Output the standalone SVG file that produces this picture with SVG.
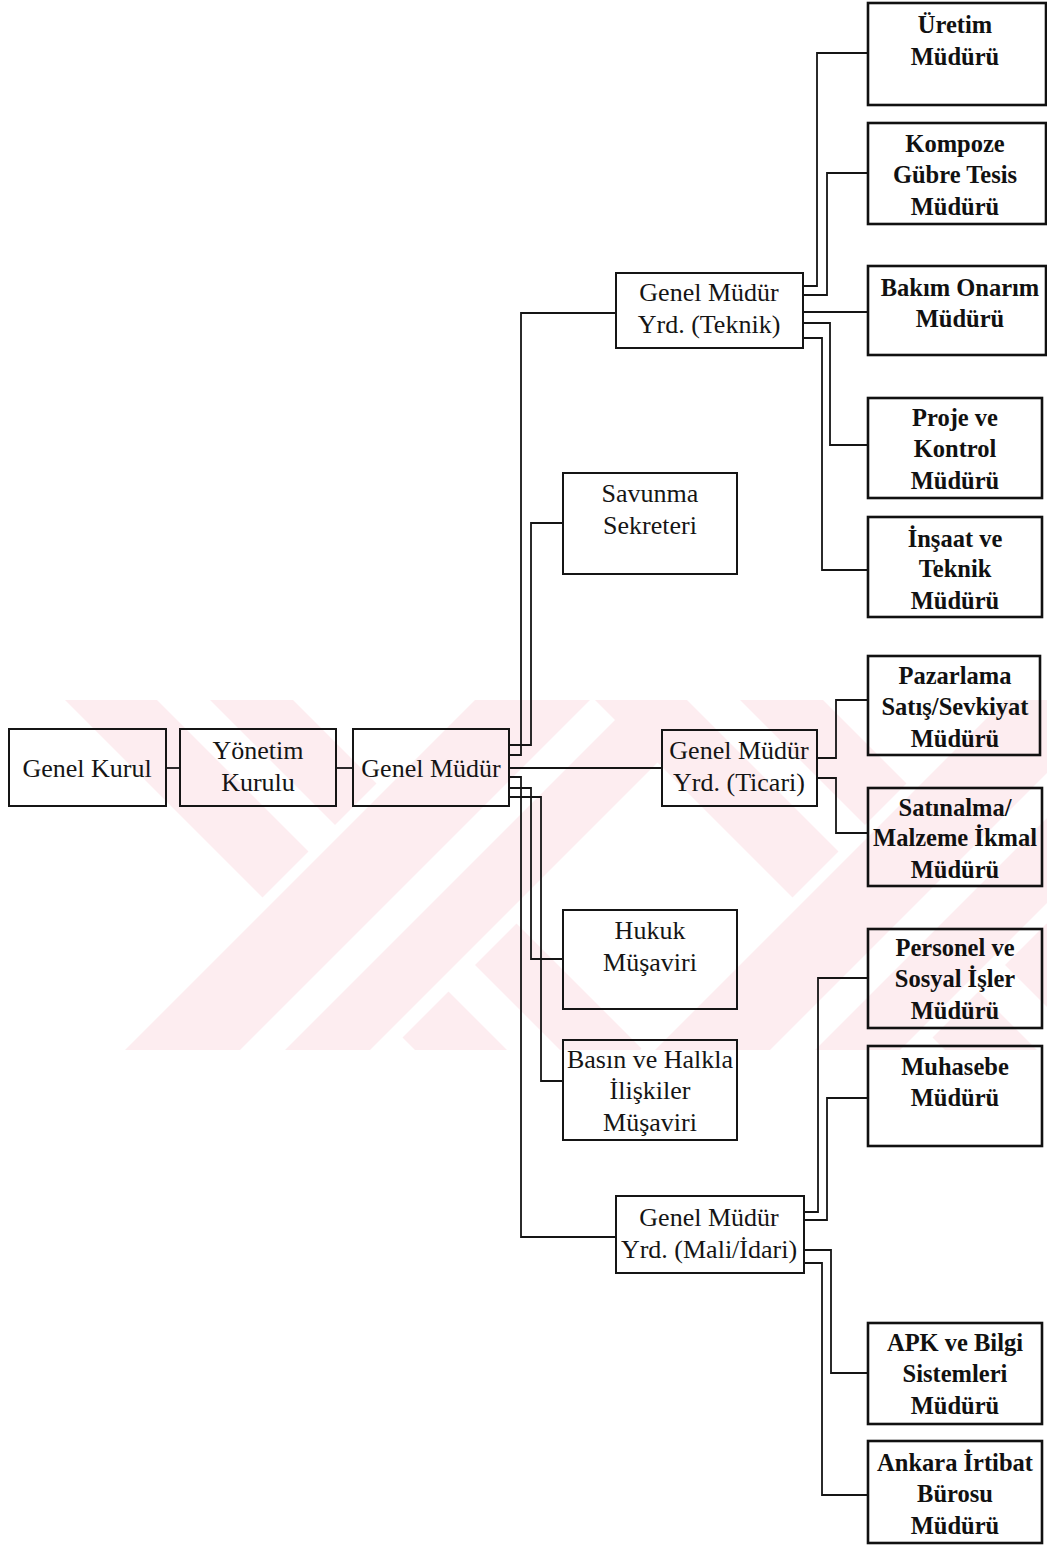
<svg xmlns="http://www.w3.org/2000/svg" width="1047" height="1546" viewBox="0 0 1047 1546">
  <style>
    .box { fill: none; stroke: #151515; stroke-width: 2; }
    .boxb { fill: none; stroke: #111; stroke-width: 2.6; }
    .wire { fill: none; stroke: #151515; stroke-width: 1.8; }
    .t { font-family: "Liberation Serif", "Times New Roman", serif; font-size: 26px; fill: #151515; text-anchor: middle; }
    .tb { font-family: "Liberation Serif", "Times New Roman", serif; font-size: 24.5px; font-weight: bold; fill: #111; text-anchor: middle; }
    .wm { fill: #fdedf0; }
    .wmg { fill: #ffffff; }
  </style>
  <defs>
    <clipPath id="wm-clip">
      <rect x="0" y="700" width="1047" height="350"/>
    </clipPath>
  </defs>

  <rect x="0" y="0" width="1047" height="1546" fill="#ffffff"/>

  <!-- background emblem: two crossed, striped bands -->
  <g id="watermark" clip-path="url(#wm-clip)">
    <polygon class="wm" points="65,700 293,700 643,1050 415,1050"/>
    <polygon class="wmg" points="157,700 210,700 560,1050 507,1050"/>
    <polygon class="wmg" points="460,700 740,700 390,1050 110,1050"/>
    <polygon class="wm" points="475,700 720,700 370,1050 125,1050"/>
    <polygon class="wmg" points="590,700 635,700 285,1050 240,1050"/>

    <polygon class="wm" points="595,700 823,700 1173,1050 945,1050"/>
    <polygon class="wmg" points="687,700 740,700 1090,1050 1037,1050"/>
    <polygon class="wmg" points="990,700 1270,700 920,1050 640,1050"/>
    <polygon class="wm" points="1005,700 1250,700 900,1050 655,1050"/>
    <polygon class="wmg" points="1120,700 1165,700 815,1050 770,1050"/>
  </g>

  <!-- connectors -->
  <g id="connectors">
    <path class="wire" d="M166,768 H180"/>
    <path class="wire" d="M336,768 H353"/>
    <path class="wire" d="M509,768 H662"/>
    <path class="wire" d="M509,755 H521 V313 H616"/>
    <path class="wire" d="M509,745 H531 V523 H563"/>
    <path class="wire" d="M509,777 H521 V1237 H616"/>
    <path class="wire" d="M509,788 H531 V959 H563"/>
    <path class="wire" d="M509,797 H541 V1081 H563"/>

    <path class="wire" d="M803,286 H817 V53 H868"/>
    <path class="wire" d="M803,295 H827 V173 H868"/>
    <path class="wire" d="M803,312 H868"/>
    <path class="wire" d="M803,323 H830 V445 H868"/>
    <path class="wire" d="M803,338 H822 V570 H868"/>

    <path class="wire" d="M817,758 H836 V700 H868"/>
    <path class="wire" d="M817,778 H836 V833 H868"/>

    <path class="wire" d="M804,1212 H818 V978 H868"/>
    <path class="wire" d="M804,1220 H827 V1098 H868"/>
    <path class="wire" d="M804,1250 H831 V1373 H868"/>
    <path class="wire" d="M804,1263 H822 V1495 H868"/>
  </g>

  <!-- main chain -->
  <g id="genel-kurul">
    <rect class="box" x="9" y="729" width="157" height="77"/>
    <text class="t" x="87" y="777">Genel Kurul</text>
  </g>
  <g id="yonetim-kurulu">
    <rect class="box" x="180" y="729" width="156" height="77"/>
    <text class="t" x="258" y="759">Yönetim</text>
    <text class="t" x="258" y="791">Kurulu</text>
  </g>
  <g id="genel-mudur">
    <rect class="box" x="353" y="729" width="156" height="77"/>
    <text class="t" x="431" y="777">Genel Müdür</text>
  </g>

  <!-- second level -->
  <g id="gmy-teknik">
    <rect class="box" x="616" y="273" width="187" height="75"/>
    <text class="t" x="709" y="301">Genel Müdür</text>
    <text class="t" x="709" y="333">Yrd. (Teknik)</text>
  </g>
  <g id="savunma-sekreteri">
    <rect class="box" x="563" y="473" width="174" height="101"/>
    <text class="t" x="650" y="502">Savunma</text>
    <text class="t" x="650" y="534">Sekreteri</text>
  </g>
  <g id="gmy-ticari">
    <rect class="box" x="662" y="730" width="155" height="76"/>
    <text class="t" x="739" y="759">Genel Müdür</text>
    <text class="t" x="739" y="791">Yrd. (Ticari)</text>
  </g>
  <g id="hukuk-musaviri">
    <rect class="box" x="563" y="910" width="174" height="99"/>
    <text class="t" x="650" y="939">Hukuk</text>
    <text class="t" x="650" y="971">Müşaviri</text>
  </g>
  <g id="basin-musaviri">
    <rect class="box" x="563" y="1040" width="174" height="100"/>
    <text class="t" x="650" y="1068">Basın ve Halkla</text>
    <text class="t" x="650" y="1099">İlişkiler</text>
    <text class="t" x="650" y="1131">Müşaviri</text>
  </g>
  <g id="gmy-mali-idari">
    <rect class="box" x="616" y="1196" width="188" height="77"/>
    <text class="t" x="709" y="1226">Genel Müdür</text>
    <text class="t" x="709" y="1258">Yrd. (Mali/İdari)</text>
  </g>

  <!-- departments -->
  <g id="uretim">
    <rect class="boxb" x="868" y="3" width="178" height="102"/>
    <text class="tb" x="955" y="33">Üretim</text>
    <text class="tb" x="955" y="65">Müdürü</text>
  </g>
  <g id="kompoze-gubre">
    <rect class="boxb" x="868" y="123" width="178" height="101"/>
    <text class="tb" x="955" y="152">Kompoze</text>
    <text class="tb" x="955" y="183">Gübre Tesis</text>
    <text class="tb" x="955" y="215">Müdürü</text>
  </g>
  <g id="bakim-onarim">
    <rect class="boxb" x="868" y="266" width="178" height="89"/>
    <text class="tb" x="960" y="296">Bakım Onarım</text>
    <text class="tb" x="960" y="327">Müdürü</text>
  </g>
  <g id="proje-kontrol">
    <rect class="boxb" x="868" y="398" width="174" height="100"/>
    <text class="tb" x="955" y="426">Proje ve</text>
    <text class="tb" x="955" y="457">Kontrol</text>
    <text class="tb" x="955" y="489">Müdürü</text>
  </g>
  <g id="insaat-teknik">
    <rect class="boxb" x="868" y="517" width="174" height="100"/>
    <text class="tb" x="955" y="547">İnşaat ve</text>
    <text class="tb" x="955" y="577">Teknik</text>
    <text class="tb" x="955" y="609">Müdürü</text>
  </g>
  <g id="pazarlama">
    <rect class="boxb" x="868" y="656" width="172" height="99"/>
    <text class="tb" x="955" y="684">Pazarlama</text>
    <text class="tb" x="955" y="715">Satış/Sevkiyat</text>
    <text class="tb" x="955" y="747">Müdürü</text>
  </g>
  <g id="satinalma">
    <rect class="boxb" x="868" y="788" width="174" height="98"/>
    <text class="tb" x="955" y="816">Satınalma/</text>
    <text class="tb" x="955" y="846">Malzeme İkmal</text>
    <text class="tb" x="955" y="878">Müdürü</text>
  </g>
  <g id="personel">
    <rect class="boxb" x="868" y="929" width="174" height="99"/>
    <text class="tb" x="955" y="956">Personel ve</text>
    <text class="tb" x="955" y="987">Sosyal İşler</text>
    <text class="tb" x="955" y="1019">Müdürü</text>
  </g>
  <g id="muhasebe">
    <rect class="boxb" x="868" y="1046" width="174" height="100"/>
    <text class="tb" x="955" y="1075">Muhasebe</text>
    <text class="tb" x="955" y="1106">Müdürü</text>
  </g>
  <g id="apk-bilgi">
    <rect class="boxb" x="868" y="1323" width="174" height="101"/>
    <text class="tb" x="955" y="1351">APK ve Bilgi</text>
    <text class="tb" x="955" y="1382">Sistemleri</text>
    <text class="tb" x="955" y="1414">Müdürü</text>
  </g>
  <g id="ankara-irtibat">
    <rect class="boxb" x="868" y="1441" width="174" height="102"/>
    <text class="tb" x="955" y="1471">Ankara İrtibat</text>
    <text class="tb" x="955" y="1502">Bürosu</text>
    <text class="tb" x="955" y="1534">Müdürü</text>
  </g>
</svg>
